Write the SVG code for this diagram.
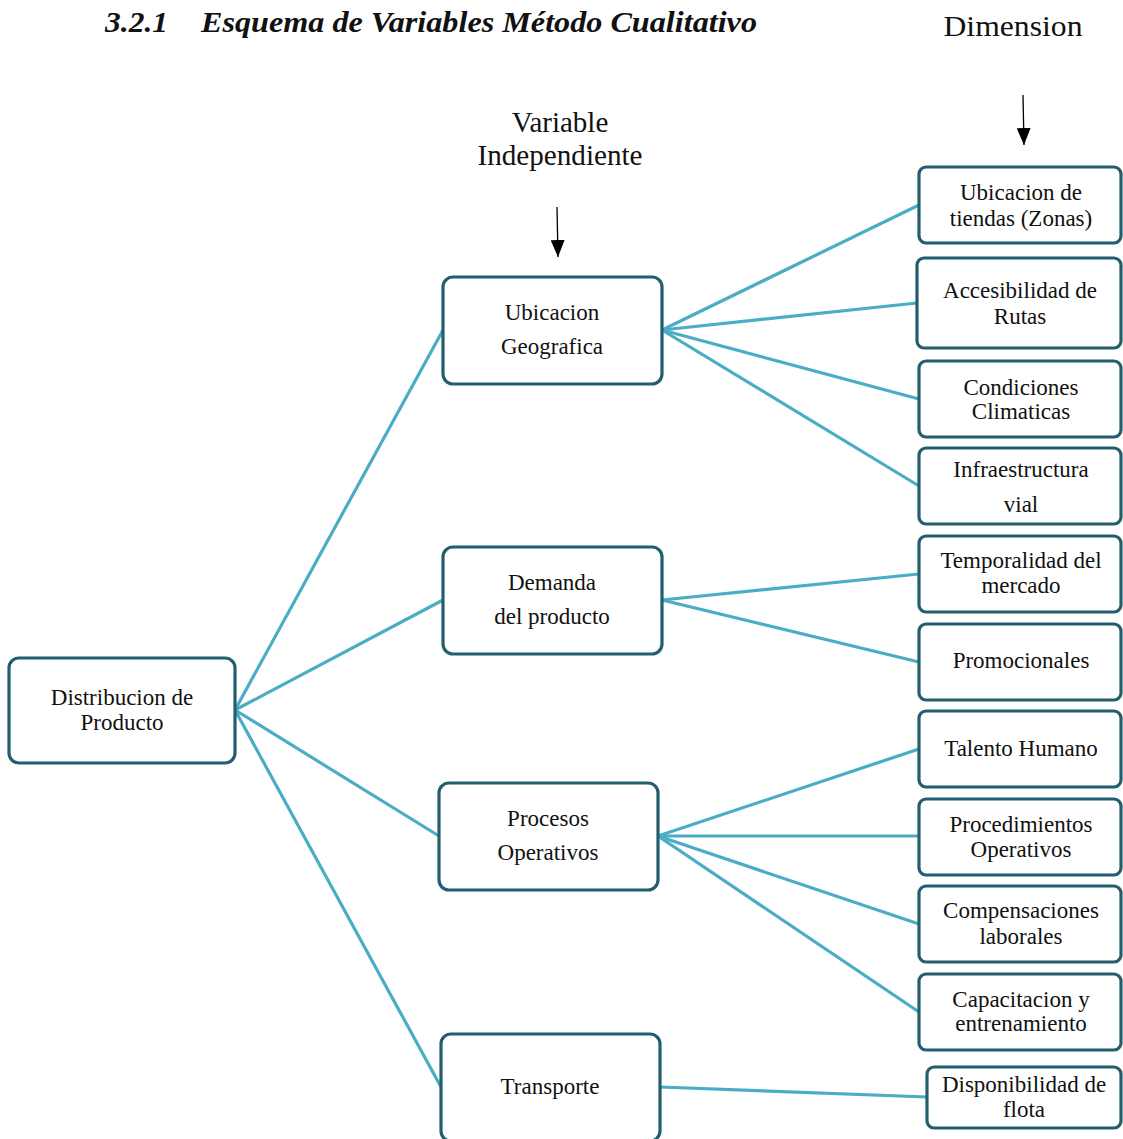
<svg xmlns="http://www.w3.org/2000/svg" width="1123" height="1139" viewBox="0 0 1123 1139">
<defs>
<marker id="ah" viewBox="0 0 17 14" refX="17" refY="7" markerWidth="17" markerHeight="14" markerUnits="userSpaceOnUse" orient="auto"><path d="M0,0 L17,7 L0,14 z" fill="#000"/></marker>
<style>
.node{fill:#fff;stroke:#235e6f;stroke-width:3.2}
.t{font-family:"Liberation Serif","Times New Roman",serif;font-size:23px;fill:#111;text-anchor:middle}
.h{font-family:"Liberation Serif","Times New Roman",serif;font-size:29px;fill:#111;text-anchor:middle}
.title{font-family:"Liberation Serif","Times New Roman",serif;font-size:30px;font-weight:bold;font-style:italic;fill:#111}
.c{stroke:#4bacc6;stroke-width:3.2;fill:none}
.arr{stroke:#000;stroke-width:1.3;fill:none}
</style>
</defs>
<rect width="1123" height="1139" fill="#fff"/>
<text class="title" x="105" y="32" textLength="63" lengthAdjust="spacingAndGlyphs">3.2.1</text>
<text class="title" x="201" y="32" textLength="556" lengthAdjust="spacingAndGlyphs">Esquema de Variables Método Cualitativo</text>
<text class="h" x="1013" y="36" textLength="139" lengthAdjust="spacingAndGlyphs">Dimension</text>
<text class="h" x="560" y="132">Variable</text>
<text class="h" x="560" y="165" textLength="165" lengthAdjust="spacingAndGlyphs">Independiente</text>
<g id="arrows">
<line class="arr" x1="557" y1="207" x2="558" y2="257" marker-end="url(#ah)"/>
<line class="arr" x1="1023" y1="95" x2="1024" y2="145" marker-end="url(#ah)"/>
</g>
<g id="connectors">
<line class="c" x1="235" y1="710" x2="443" y2="330"/>
<line class="c" x1="235" y1="710" x2="443" y2="600"/>
<line class="c" x1="235" y1="710" x2="439" y2="836"/>
<line class="c" x1="235" y1="710" x2="441" y2="1087"/>
<line class="c" x1="662" y1="330" x2="919" y2="205"/>
<line class="c" x1="662" y1="330" x2="917" y2="303"/>
<line class="c" x1="662" y1="330" x2="919" y2="399"/>
<line class="c" x1="662" y1="330" x2="919" y2="486"/>
<line class="c" x1="662" y1="600" x2="919" y2="574"/>
<line class="c" x1="662" y1="600" x2="919" y2="662"/>
<line class="c" x1="658" y1="836" x2="919" y2="749"/>
<line class="c" x1="658" y1="836" x2="919" y2="836"/>
<line class="c" x1="658" y1="836" x2="919" y2="924"/>
<line class="c" x1="658" y1="836" x2="919" y2="1012"/>
<line class="c" x1="660" y1="1087" x2="927" y2="1097"/>
</g>
<g id="n-distribucion"><rect class="node" x="9" y="658" width="226" height="105" rx="10"/><text class="t" x="122" y="705">Distribucion de</text><text class="t" x="122" y="730">Producto</text></g>
<g id="n-ubicacion"><rect class="node" x="443" y="277" width="219" height="107" rx="10"/><text class="t" x="552" y="320">Ubicacion</text><text class="t" x="552" y="354">Geografica</text></g>
<g id="n-demanda"><rect class="node" x="443" y="547" width="219" height="107" rx="10"/><text class="t" x="552" y="590">Demanda</text><text class="t" x="552" y="624">del producto</text></g>
<g id="n-procesos"><rect class="node" x="439" y="783" width="219" height="107" rx="10"/><text class="t" x="548" y="826">Procesos</text><text class="t" x="548" y="860">Operativos</text></g>
<g id="n-transporte"><rect class="node" x="441" y="1034" width="219" height="107" rx="10"/><text class="t" x="550" y="1094">Transporte</text></g>
<g id="d-tiendas"><rect class="node" x="919" y="167" width="202" height="76" rx="7"/><text class="t" x="1021" y="200">Ubicacion de</text><text class="t" x="1021" y="226">tiendas (Zonas)</text></g>
<g id="d-rutas"><rect class="node" x="917" y="258" width="204" height="90" rx="7"/><text class="t" x="1020" y="298">Accesibilidad de</text><text class="t" x="1020" y="324">Rutas</text></g>
<g id="d-clima"><rect class="node" x="919" y="361" width="202" height="76" rx="7"/><text class="t" x="1021" y="395">Condiciones</text><text class="t" x="1021" y="419">Climaticas</text></g>
<g id="d-infra"><rect class="node" x="919" y="448" width="202" height="76" rx="7"/><text class="t" x="1021" y="477">Infraestructura</text><text class="t" x="1021" y="512">vial</text></g>
<g id="d-temporalidad"><rect class="node" x="919" y="536" width="202" height="76" rx="7"/><text class="t" x="1021" y="568">Temporalidad del</text><text class="t" x="1021" y="593">mercado</text></g>
<g id="d-promo"><rect class="node" x="919" y="624" width="202" height="76" rx="7"/><text class="t" x="1021" y="668">Promocionales</text></g>
<g id="d-talento"><rect class="node" x="919" y="711" width="202" height="76" rx="7"/><text class="t" x="1021" y="756">Talento Humano</text></g>
<g id="d-proced"><rect class="node" x="919" y="799" width="202" height="76" rx="7"/><text class="t" x="1021" y="832">Procedimientos</text><text class="t" x="1021" y="857">Operativos</text></g>
<g id="d-compens"><rect class="node" x="919" y="886" width="202" height="76" rx="7"/><text class="t" x="1021" y="918">Compensaciones</text><text class="t" x="1021" y="944">laborales</text></g>
<g id="d-capac"><rect class="node" x="919" y="974" width="202" height="76" rx="7"/><text class="t" x="1021" y="1007">Capacitacion y</text><text class="t" x="1021" y="1031">entrenamiento</text></g>
<g id="d-flota"><rect class="node" x="927" y="1067" width="194" height="61" rx="7"/><text class="t" x="1024" y="1092">Disponibilidad de</text><text class="t" x="1024" y="1117">flota</text></g>
</svg>
